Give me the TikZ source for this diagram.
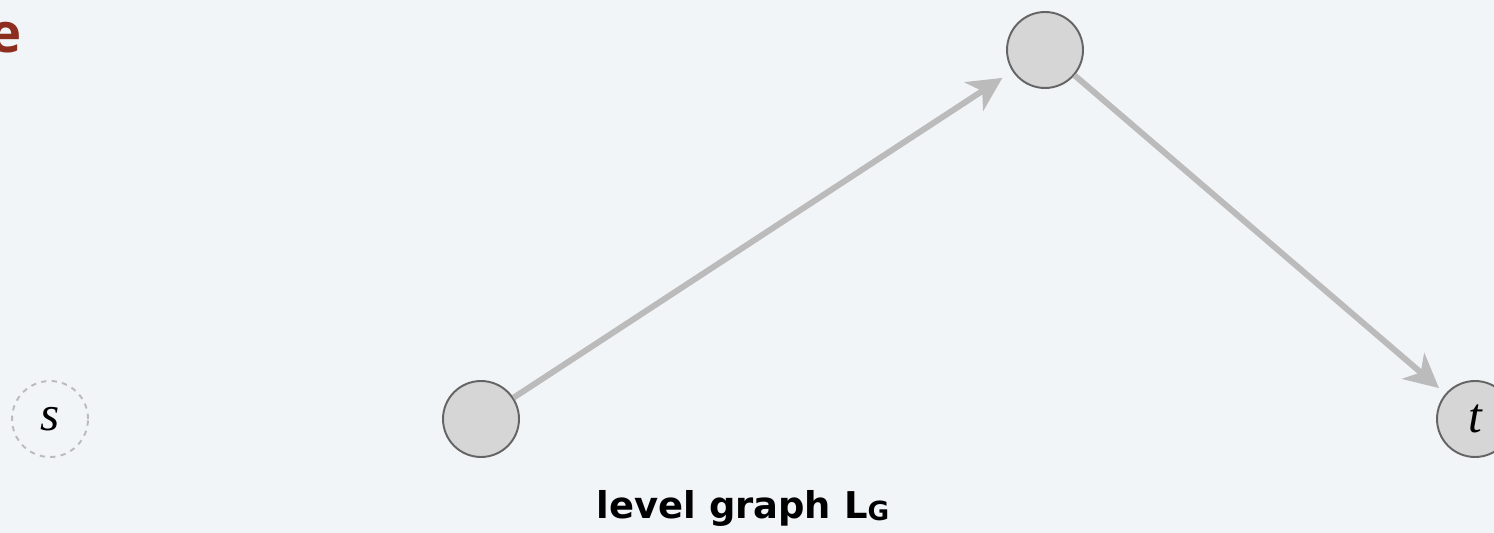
\documentclass[tikz,border=0pt]{standalone}
\usepackage{fontspec}
\setsansfont{Open Sans}
\newfontfamily\capfont{DejaVu Sans}
\newfontfamily\vfont{Liberation Serif}
\usetikzlibrary{arrows.meta}
\definecolor{bgpanel}{RGB}{242,245,248}
\definecolor{vfill}{RGB}{214,214,214}
\definecolor{vline}{RGB}{100,100,100}
\definecolor{edgegray}{RGB}{187,187,187}
\definecolor{titlered}{RGB}{140,45,30}
\tikzset{
  vert/.style={circle,draw=vline,fill=vfill,line width=1.1pt,minimum size=1.52cm,inner sep=0pt,font=\vfont\itshape\fontsize{28}{28}\selectfont},
  ghost/.style={vert,draw=edgegray,fill=none,dashed},
  edge/.style={draw=edgegray,line width=3.4pt,-{Stealth[length=0.68cm,width=0.68cm,inset=0.2cm]}}
}
\begin{document}
\begin{tikzpicture}[x=0.02cm,y=-0.02cm]
\fill[bgpanel] (0,0) rectangle (1494,533);
\useasboundingbox (0,0) rectangle (1494,533);
\begin{scope}
\clip (0,0) rectangle (1494,533);
\node[anchor=base west,inner sep=0pt,text=titlered,font=\sffamily\bfseries\fontsize{31}{31}\selectfont] (head) at (-11,53) {e};
\node[ghost] (s) at (50,419) {s};
\node[vert] (a) at (481,419) {};
\node[vert] (b) at (1045,50) {};
\node[vert] (t) at (1475,419) {t};
\draw[edge,shorten >=0.24cm] (a) -- (b);
\draw[edge,shorten >=0.17cm] (b) -- (t);
\node[anchor=base,inner sep=0pt,font=\capfont\bfseries\fontsize{21}{21}\selectfont] (cap) at (743,518) {level graph L\raisebox{-0.08em}{\fontsize{15}{15}\selectfont G}};
\end{scope}
\end{tikzpicture}
\end{document}
